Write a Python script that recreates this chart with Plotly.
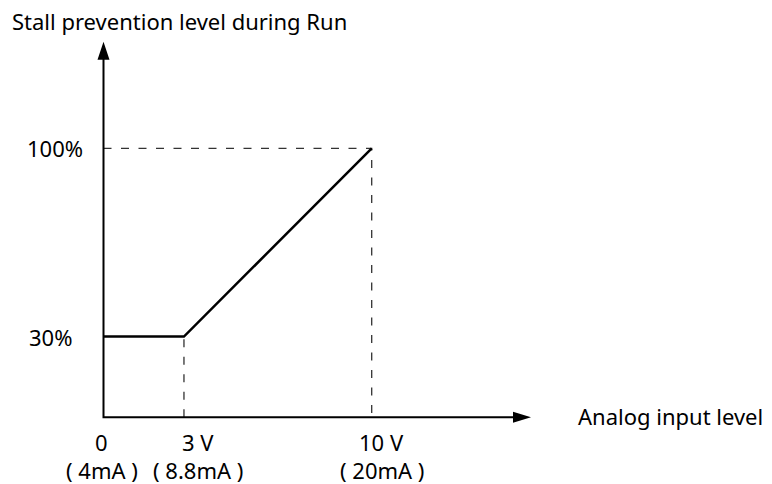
import plotly.graph_objects as go

# curve: analog input (V) -> stall prevention level (%)
input_v = [0, 3, 10]
level_pct = [30, 30, 100]

# axis extents (arrow tips)
x_axis_end = 15.94
y_axis_end = 139.6

# tick labels
x_tick_pos = [0, 3, 10]
x_tick_volt = ["0", "3 V", "10 V"]
x_tick_ma = ["( 4mA )", "( 8.8mA )", "( 20mA )"]
y_tick_pos = [100, 30]
y_tick_text = ["100%", "30%"]

# label nudges in pixels (layout only)
x_label_dx = [-2, 14, 10]
y_label_dx = [-49, -53]

FONT = "Noto Sans, Open Sans, sans-serif"
FS = 22
fig = go.Figure()

# dashed guides
dash = dict(color="#333333", width=1.3, dash="8px,9.5px")
fig.add_trace(go.Scatter(x=[input_v[1], input_v[1]], y=[0, level_pct[1]], mode="lines",
                         line=dash, hoverinfo="skip"))
fig.add_trace(go.Scatter(x=[0, input_v[2], input_v[2]], y=[level_pct[2], level_pct[2], 0],
                         mode="lines", line=dash, hoverinfo="skip"))

# axes
fig.add_trace(go.Scatter(x=[0, 0, x_axis_end - 0.6], y=[y_axis_end - 6, 0, 0], mode="lines",
                         line=dict(color="black", width=2), hoverinfo="skip"))

# curve
fig.add_trace(go.Scatter(x=input_v, y=level_pct, mode="lines",
                         line=dict(color="black", width=2.5), hoverinfo="skip"))

# arrowheads
fig.add_shape(type="path", xref="x", yref="y", xsizemode="pixel", ysizemode="pixel",
              xanchor=0, yanchor=y_axis_end, path="M -6 -18 L 6 -18 L 0 0 Z",
              fillcolor="black", line=dict(width=0))
fig.add_shape(type="path", xref="x", yref="y", xsizemode="pixel", ysizemode="pixel",
              xanchor=x_axis_end, yanchor=0, path="M -18 -5.5 L -18 5.5 L 0 0 Z",
              fillcolor="black", line=dict(width=0))

anns = []
for xv, t, m, s in zip(x_tick_pos, x_tick_volt, x_tick_ma, x_label_dx):
    anns.append(dict(x=xv, y=0, text=t, yshift=-25, xshift=s))
    anns.append(dict(x=xv, y=0, text=m, yshift=-53, xshift=s))
for yv, t, s in zip(y_tick_pos, y_tick_text, y_label_dx):
    anns.append(dict(x=0, y=yv, text=t, xshift=s))
anns.append(dict(x=0, y=y_axis_end, text="Stall prevention level during Run",
                 xanchor="left", xshift=-92.5, yshift=20.5, borderpad=0))
anns.append(dict(x=x_axis_end, y=0, text="Analog input level",
                 xanchor="left", xshift=45, yshift=1))
for a in anns:
    a.update(xref="x", yref="y", showarrow=False, font=dict(size=FS))

fig.update_layout(
    width=772, height=484,
    margin=dict(l=0, r=0, t=0, b=0),
    paper_bgcolor="white", plot_bgcolor="white",
    showlegend=False,
    font=dict(family=FONT, color="black", size=FS),
    xaxis=dict(range=[-3.561, 25.224], visible=False, fixedrange=True),
    yaxis=dict(range=[-27.77, 152.16], visible=False, fixedrange=True),
    annotations=anns,
)

fig.write_html("out.html")
